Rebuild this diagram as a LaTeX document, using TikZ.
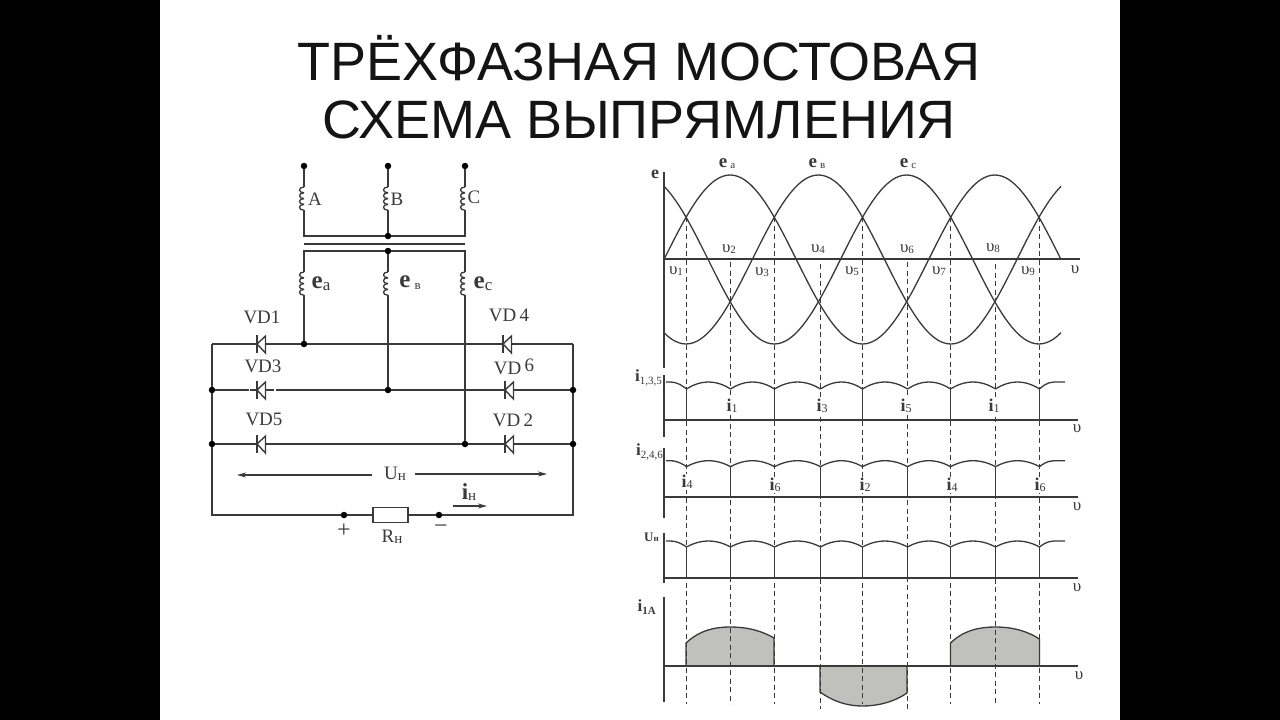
\documentclass[tikz,border=0pt]{standalone}
\usepackage{fontspec}
\setmainfont{Liberation Serif}
\newfontfamily\titlefont{Liberation Sans}
\usetikzlibrary{arrows.meta}
\newcommand\fsz[1]{\fontsize{#1}{#1}\selectfont}
\newcommand\lowsub[2]{\raisebox{-#1pt}{\fsz{10}#2}}
\definecolor{ink}{HTML}{3A3A3A}
\definecolor{hump}{HTML}{C0C0BC}
\tikzset{
  wire/.style={draw=ink,line width=1.6pt},
  curve/.style={draw=ink,line width=1.3pt,line join=round},
  axisline/.style={draw=ink,line width=1.6pt},
  dropline/.style={draw=ink,line width=1.1pt,dash pattern=on 5pt off 3.5pt},
  solidline/.style={draw=ink,line width=1.8pt},
  dotn/.style={circle,fill=black,inner sep=0pt,minimum size=6.5pt},
  lab/.style={text=ink,inner sep=0pt,font=\fsz{19}},
  tinyl/.style={text=ink,inner sep=0pt,font=\fsz{11}\bfseries},
  upl/.style={text=ink,inner sep=0pt,font=\fsz{17}},
  curlab/.style={text=ink,fill=white,inner sep=1pt,font=\fsz{18}\bfseries},
  measure/.style={draw=ink,line width=1.2pt,-{Stealth[length=9pt,width=5pt]}},
  diode/.pic={
    \draw[wire,line width=1.4pt,fill=white] (-4,0)--(4.5,-8)--(4.5,9)--cycle;
    \draw[wire,line width=1.4pt] (-4,-9)--(-4,9);
  },
  coil/.pic={
    \foreach \k in {0,1,2,3}{
      \draw[wire,line width=1.3pt] (0,{\k*5.8}) .. controls (-6,{\k*5.8}) and (-6,{(\k+1)*5.8}) .. (0,{(\k+1)*5.8});
    }
  }
}
\begin{document}
\begin{tikzpicture}[x=1pt,y=-1pt]
\useasboundingbox (0,0) rectangle (1280,720);
\fill[black] (0,0) rectangle (1280,720);
\fill[white] (160,0) rectangle (1120,720);

% title
\node[inner sep=0pt,font=\titlefont\fsz{54},text=black!92] (t1) at (639,58) {ТРЁХФАЗНАЯ МОСТОВАЯ};
\node[inner sep=0pt,font=\titlefont\fsz{54},text=black!92] (t2) at (639,120) {СХЕМА ВЫПРЯМЛЕНИЯ};

% ---------- circuit ----------
\node[dotn] (ta) at (304,166) {};
\node[dotn] (tb) at (388,166) {};
\node[dotn] (tc) at (465,166) {};
\coordinate (c1at) at (304,187); \coordinate (c1ab) at (304,210.2);
\coordinate (c1bt) at (388,187); \coordinate (c1bb) at (388,210.2);
\coordinate (c1ct) at (465,187); \coordinate (c1cb) at (465,210.2);
\coordinate (c2at) at (304,272); \coordinate (c2ab) at (304,295.2);
\coordinate (c2bt) at (388,272); \coordinate (c2bb) at (388,295.2);
\coordinate (c2ct) at (465,272); \coordinate (c2cb) at (465,295.2);
\pic at (c1at) {coil}; \pic at (c1bt) {coil}; \pic at (c1ct) {coil};
\pic at (c2at) {coil}; \pic at (c2bt) {coil}; \pic at (c2ct) {coil};
\coordinate (p1) at (304,236); \node[dotn] (p2) at (388,236) {}; \coordinate (p3) at (465,236);
\coordinate (s1) at (304,251); \node[dotn] (s2) at (388,251) {}; \coordinate (s3) at (465,251);
\coordinate (core1) at (304,244); \coordinate (core2) at (465,244);
\draw[wire] (ta)--(c1at); \draw[wire] (tb)--(c1bt); \draw[wire] (tc)--(c1ct);
\draw[wire] (c1ab)--(p1)--(p2)--(p3)--(c1cb);
\draw[wire] (c1bb)--(p2);
\draw[wire] (core1)--(core2);
\draw[wire] (c2at)--(s1)--(s2)--(s3)--(c2ct);
\draw[wire] (s2)--(c2bt);

\coordinate (lt) at (212,344); \coordinate (rt) at (573,344);
\node[dotn] (l2) at (212,390) {}; \node[dotn] (r2) at (573,390) {};
\node[dotn] (l3) at (212,444) {}; \node[dotn] (r3) at (573,444) {};
\coordinate (lb) at (212,515); \coordinate (rb) at (573,515);
\node[dotn] (ja) at (304,344) {};
\node[dotn] (jb) at (388,390) {};
\node[dotn] (jc) at (465,444) {};
\node[dotn] (plus) at (344,515) {};
\node[dotn] (minus) at (439,515) {};
\node[draw=ink,line width=1.6pt,fill=white,minimum width=35pt,minimum height=15pt,inner sep=0pt] (rl) at (390.5,515) {};

\draw[wire] (lt)--(ja)--(rt);
\draw[wire] (l2)--(jb)--(r2);
\draw[wire] (l3)--(jc)--(r3);
\draw[wire] (lt)--(l2)--(l3)--(lb)--(plus)--(rl)--(minus)--(rb)--(r3)--(r2)--(rt);
\draw[wire] (c2ab)--(ja);
\draw[wire] (c2bb)--(jb);
\draw[wire] (c2cb)--(jc);

\coordinate (d1) at (261,344); \coordinate (d3) at (261,390); \coordinate (d5) at (261,444);
\coordinate (d4) at (507,344); \coordinate (d6) at (509,390); \coordinate (d2) at (509,444);
\draw[white,line width=2.4pt] (248.5,390)--(250,390) (274,390)--(275.5,390);
\pic at (d1) {diode}; \pic at (d3) {diode}; \pic at (d5) {diode};
\pic at (d4) {diode}; \pic at (d6) {diode}; \pic at (d2) {diode};

\node[lab] (la) at (315,199) {A};
\node[lab] (lbb) at (397,199) {B};
\node[lab] (lc) at (474,197) {C};
\node[lab,font=\fsz{25}\bfseries] (ea) at (321,284) {e\lowsub{2}{\fsz{17}\mdseries а}};
\node[lab,font=\fsz{25}\bfseries] (eb) at (410,283) {e\,\lowsub{2}{\fsz{13}\mdseries в}};
\node[lab,font=\fsz{25}\bfseries] (ec) at (483,284) {e\lowsub{2}{\fsz{17}\mdseries с}};
\node[lab] (vd1) at (262,317) {VD1};
\node[lab] (vd4) at (509,315) {VD\,4};
\node[lab] (vd3) at (263,366) {VD3};
\node[lab] (vd6) at (514,367) {VD\,\raisebox{3pt}{6}};
\node[lab] (vd5) at (264,419) {VD5};
\node[lab] (vd2) at (513,420) {VD\,2};
\node[lab] (un) at (395,474) {U\lowsub{1}{\fsz{15}н}};
\coordinate (ul1) at (372,475); \coordinate (ul2) at (237,475);
\coordinate (ur1) at (415,474); \coordinate (ur2) at (547,474);
\draw[measure] (ul1)--(ul2);
\draw[measure] (ur1)--(ur2);
\node[lab,font=\fsz{23}\bfseries] (inn) at (469,492) {i\lowsub{1}{\fsz{15}\mdseries н}};
\coordinate (ia1) at (453,506); \coordinate (ia2) at (487,506);
\draw[measure] (ia1)--(ia2);
\node[lab,font=\fsz{24}] (pl) at (344,531) {+};
\node[lab,font=\fsz{24}] (mi) at (441,529) {−};
\node[lab] (rn) at (392,537) {R\lowsub{1}{\fsz{15}н}};

% ---------- graphs ----------
% shaded humps
\fill[hump] (686,666)--(686,643) .. controls (700,630) and (715,627) .. (730,627) .. controls (748,627) and (762,631) .. (774,638)--(774,666)--cycle;
\fill[hump] (950.5,666)--(950.5,643) .. controls (964,630) and (980,627) .. (995,627) .. controls (1013,627) and (1027,631) .. (1039.5,639)--(1039.5,666)--cycle;
\fill[hump] (820,666)--(820,692) .. controls (834,702) and (848,706) .. (862.5,706) .. controls (878,706) and (894,702) .. (907,693)--(907,666)--cycle;
\draw[curve] (686,666)--(686,643) .. controls (700,630) and (715,627) .. (730,627) .. controls (748,627) and (762,631) .. (774,638)--(774,666);
\draw[curve] (950.5,666)--(950.5,643) .. controls (964,630) and (980,627) .. (995,627) .. controls (1013,627) and (1027,631) .. (1039.5,639)--(1039.5,666);
\draw[curve] (820,666)--(820,692) .. controls (834,702) and (848,706) .. (862.5,706) .. controls (878,706) and (894,702) .. (907,693)--(907,666);

% dashed verticals
\foreach \x/\ya/\yb in {686.5/217/704,730.5/262/704,774.5/217/704,820.5/264/709,862.5/217/704,907.5/262/709,950.5/217/704,995.5/264/704,1039.5/217/704}{
  \draw[dropline] (\x,\ya)--(\x,\yb);
}

% sines
\foreach \ph in {0,120,-120}{
  \draw[curve,smooth] plot[domain=0:540,samples=109] ({664+0.7352*\x},{259.5-84.5*sin(\x+\ph)});
}
% axes
\draw[axisline] (664,172)--(664,368);
\draw[axisline] (664,259)--(1080,259);
\draw[axisline] (664,375)--(664,437);
\draw[axisline] (664,420)--(1078,420);
\draw[axisline] (664,448)--(664,518);
\draw[axisline] (664,497)--(1078,497);
\draw[axisline] (664,533)--(664,583);
\draw[axisline] (664,578)--(1078,578);
\draw[axisline] (664,597)--(664,702);
\draw[axisline] (664,666)--(1078,666);

% ripple traces
\foreach \yt/\yc in {382/389,460.7/466.7,541/547}{
  \draw[curve] (666,\yt)--(670,\yt) parabola (686.5,\yc);
  \foreach \a/\b in {686.5/730.5,730.5/774.5,774.5/820.5,820.5/862.5,862.5/907.5,907.5/950.5,950.5/995.5,995.5/1039.5}{
    \pgfmathsetmacro\m{(\a+\b)/2}
    \draw[curve] (\a,\yc) parabola bend (\m,\yt) (\b,\yc);
  }
  \draw[curve] (1039.5,\yc) parabola[bend at end] (1054,\yt) -- (1065,\yt);
}
% solid drops
\foreach \x in {686.5,774.5,862.5,950.5,1039.5}{ \draw[solidline] (\x,389)--(\x,420); }
\foreach \x in {730.5,820.5,907.5,995.5}{ \draw[solidline] (\x,466.7)--(\x,497); }
\foreach \x in {686.5,730.5,774.5,820.5,862.5,907.5,950.5,995.5,1039.5}{ \draw[solidline] (\x,547)--(\x,578); }

% graph labels
\node[upl,font=\fsz{18}\bfseries] (ge) at (655,174) {e};
\node[upl,font=\fsz{19}\bfseries] (gea) at (727,164) {e\,\lowsub{1}{\fsz{11}\mdseries а}};
\node[upl,font=\fsz{19}\bfseries] (geb) at (817,164) {e\,\lowsub{1}{\fsz{11}\mdseries в}};
\node[upl,font=\fsz{19}\bfseries] (gec) at (908,164) {e\,\lowsub{1}{\fsz{11}\mdseries с}};
\foreach \n/\x/\y in {1/676/271,2/729/249,3/762/272,4/818/249,5/852/271,6/907/249,7/939/271,8/993/248,9/1028/271}{
  \node[upl] (th\n) at (\x,\y) {υ\lowsub{1}{\fsz{11}\n}};
}
\node[upl] (axa) at (1075,270) {υ};
\node[upl] (axb) at (1077,429) {υ};
\node[upl] (axc) at (1077,507) {υ};
\node[upl] (axd) at (1077,588) {υ};
\node[upl] (axe) at (1079,676) {υ};

\node[tinyl,font=\fsz{17}\bfseries,anchor=east] (i135) at (662,378) {i\lowsub{3}{\fsz{11}\mdseries 1,3,5}};
\node[tinyl,font=\fsz{17}\bfseries,anchor=east] (i246) at (663,452) {i\lowsub{3}{\fsz{11}\mdseries 2,4,6}};
\node[tinyl,font=\fsz{13}\bfseries,anchor=west] (unn) at (644,537) {U\lowsub{0}{\fsz{9}н}};
\node[tinyl,font=\fsz{17}\bfseries,anchor=east] (i1a) at (656,607) {i\lowsub{3}{\fsz{11}1А}};

\foreach \n/\s/\x/\y in {a/1/732/406,b/3/822/406,c/5/906/406,d/1/994/406,e/4/687/482,f/6/775/485,g/2/865/485,h/4/952/485,k/6/1040/485}{
  \node[curlab] (cur\n) at (\x,\y) {i\lowsub{1}{\fsz{12}\mdseries\s}};
}
\end{tikzpicture}
\end{document}
